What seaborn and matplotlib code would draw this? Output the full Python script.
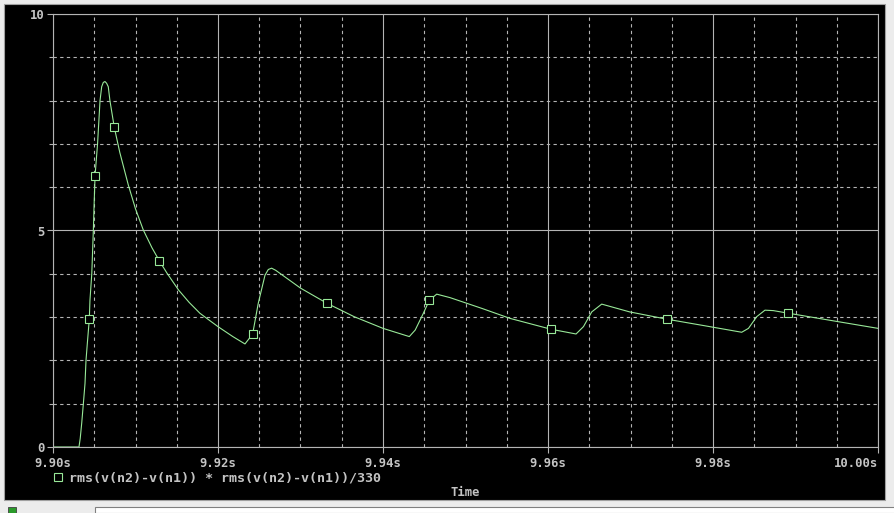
import pandas as pd
import seaborn as sns
import matplotlib.pyplot as plt
from matplotlib.lines import Line2D
from matplotlib.patches import Rectangle

# waveform (time in s, value)
time_s = [9.9000, 9.90315, 9.9033, 9.90348, 9.90368, 9.90388, 9.9040, 9.90416, 9.9044,
          9.90448, 9.9047, 9.90489, 9.9050, 9.9051, 9.9054, 9.9057, 9.9059, 9.9061,
          9.9063, 9.9065, 9.9067, 9.9069, 9.90743, 9.9081, 9.90913, 9.9100, 9.91095,
          9.9120, 9.91289, 9.9138, 9.9152, 9.9165, 9.9178, 9.9190, 9.9200, 9.9218,
          9.92327, 9.9242, 9.92488, 9.9257, 9.9261, 9.9265, 9.9270, 9.9300, 9.9332,
          9.9365, 9.9400, 9.94319, 9.9439, 9.9449, 9.94561, 9.94651, 9.94812, 9.9520,
          9.9554, 9.96036, 9.9634, 9.9643, 9.9653, 9.96651, 9.9699, 9.97446, 9.9790,
          9.98348, 9.9843, 9.9853, 9.98630, 9.9873, 9.98913, 9.9950, 10.0000]
power = [0.0, 0.0, 0.2, 0.55, 1.0, 1.47, 2.0, 2.39, 2.95,
         3.39, 4.0, 5.0, 5.7, 6.27, 7.0, 8.0, 8.32, 8.42,
         8.44, 8.40, 8.32, 8.0, 7.38, 6.80, 6.05, 5.50, 5.01,
         4.60, 4.30, 4.02, 3.63, 3.34, 3.09, 2.92, 2.78, 2.55,
         2.38, 2.61, 3.32, 3.97, 4.10, 4.13, 4.08, 3.67, 3.32,
         3.01, 2.74, 2.55, 2.70, 3.09, 3.39, 3.53, 3.45, 3.20,
         2.97, 2.72, 2.61, 2.78, 3.12, 3.30, 3.12, 2.95, 2.80,
         2.65, 2.74, 3.01, 3.16, 3.15, 3.09, 2.90, 2.74]
marker_idx = [8, 13, 22, 28, 37, 44, 50, 55, 61, 68]

x_ticks = [9.90, 9.92, 9.94, 9.96, 9.98, 10.00]
x_labels = ["9.90s", "9.92s", "9.94s", "9.96s", "9.98s", "10.00s"]
y_ticks = [0, 5, 10]
y_labels = ["0", "5", "10"]
trace_name = "rms(v(n2)-v(n1)) * rms(v(n2)-v(n1))/330"

GREEN = "#98e898"
GRID = "#b4b4b4"
TXT = "#c4c4c4"

sns.set_theme(style="dark", rc={"axes.facecolor": "black", "figure.facecolor": "#ececec"})
plt.rcParams["font.family"] = ["DejaVu Sans Mono", "DejaVu Sans"]

df = pd.DataFrame({"t": time_s, "p": power})

W, H = 895, 513
fig = plt.figure(figsize=(W / 100, H / 100), dpi=100)

# window chrome: black probe area and bottom status strip
fig.patches.append(Rectangle((4 / W, 1 - 500 / H), 881 / W, 496 / H, transform=fig.transFigure,
                             facecolor="black", edgecolor="#a0a0a0", lw=0.8, zorder=0))
fig.patches.append(Rectangle((95 / W, 0), 800 / W, 6 / H, transform=fig.transFigure,
                             facecolor="white", edgecolor="#808080", lw=0.8, zorder=0))
fig.patches.append(Rectangle((8 / W, 0), 8 / W, 6 / H, transform=fig.transFigure,
                             facecolor="#2a9a2a", edgecolor="#404040", lw=0.6, zorder=0))

ax = fig.add_axes([53 / W, 1 - 447 / H, 825 / W, 433 / H])
ax.set_zorder(2)
ax.set_facecolor("black")

sns.lineplot(data=df, x="t", y="p", ax=ax, color=GREEN, lw=0.8, marker="s",
             markevery=marker_idx, mfc="black", mec=GREEN, mew=0.8, ms=5.5, legend=False)

ax.set_xlim(9.90, 10.00)
ax.set_ylim(0, 10)
ax.set_xticks(x_ticks)
ax.set_xticklabels(x_labels)
ax.set_xticks([9.90 + 0.005 * i for i in range(21)], minor=True)
ax.set_yticks(y_ticks)
ax.set_yticklabels(y_labels)
ax.set_yticks(range(11), minor=True)

ax.grid(which="major", color=GRID, lw=0.8, ls="-")
ax.grid(which="minor", color=GRID, lw=0.8, ls=(0, (3, 3)))
ax.set_axisbelow(True)

for s in ax.spines.values():
    s.set_visible(True)
    s.set_color(GRID)
    s.set_linewidth(0.8)

ax.tick_params(axis="both", which="major", colors=GRID, labelcolor=TXT, length=4, width=0.8,
               labelsize=8.8, direction="out", bottom=True, left=True)
ax.tick_params(axis="x", which="minor", length=0)
ax.tick_params(axis="y", which="minor", length=3, width=0.8, colors=GRID, left=True)
ax.tick_params(axis="x", pad=3.5)
ax.tick_params(axis="y", pad=2)
for lab in ax.get_xticklabels() + ax.get_yticklabels():
    lab.set_fontweight("bold")
ax.get_xticklabels()[-1].set_horizontalalignment("right")

ax.set_xlabel("Time", color=TXT, fontsize=8.8, fontweight="bold")
ax.xaxis.set_label_coords(0.5, -0.09)
ax.set_ylabel("")

handle = Line2D([], [], ls="none", marker="s", mfc="none", mec=GREEN, mew=0.8, ms=5.5)
leg = ax.legend([handle], [trace_name], loc="center left", bbox_to_anchor=(-0.007, -0.072),
                frameon=False, handlelength=0.8, handletextpad=0.45, borderaxespad=0,
                prop={"size": 9.6, "weight": "bold"})
for txt in leg.get_texts():
    txt.set_color(TXT)

fig.savefig("out.png", dpi=100, facecolor=fig.get_facecolor())
